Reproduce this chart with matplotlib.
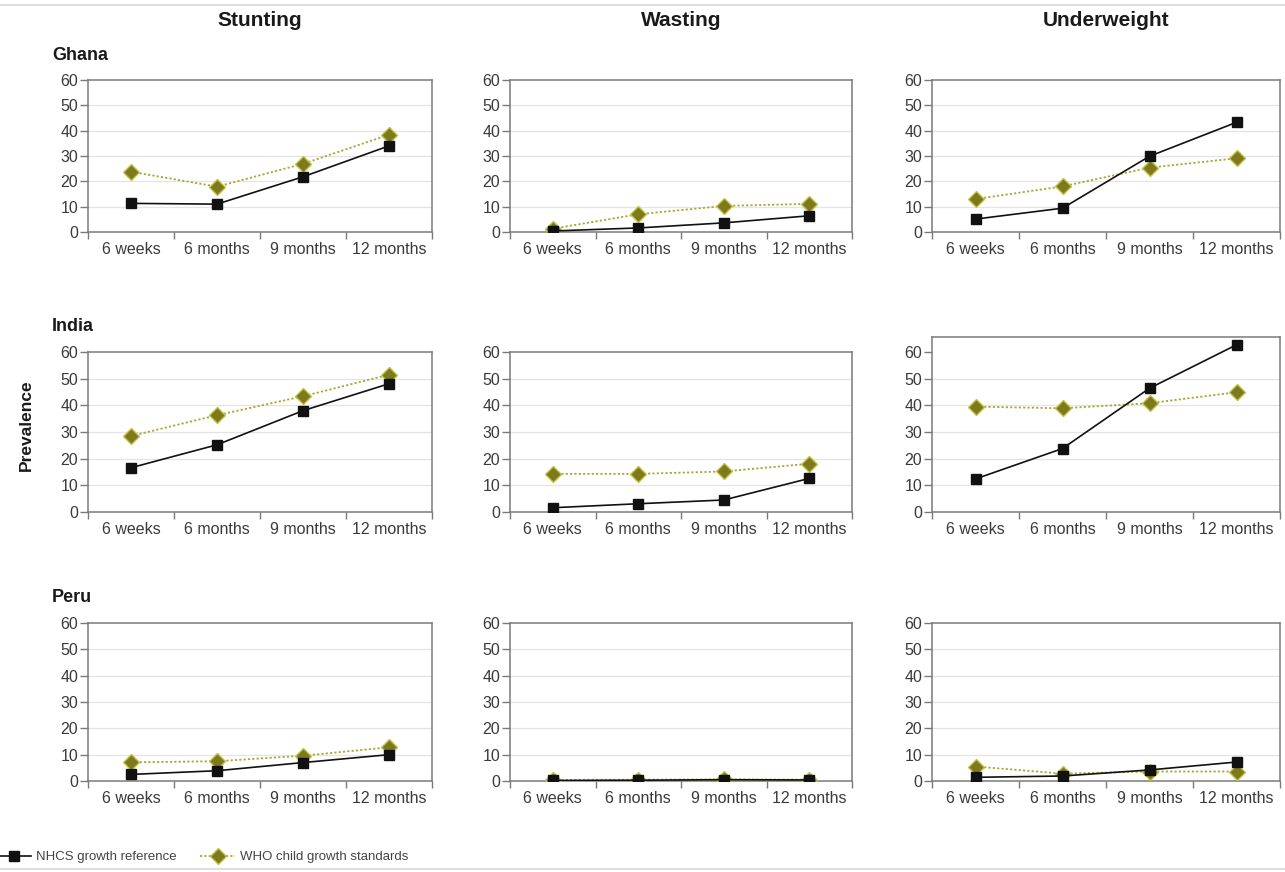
import matplotlib
matplotlib.use("Agg")
import matplotlib.pyplot as plt
from matplotlib.lines import Line2D

plt.rcParams['font.family'] = ['Liberation Sans Narrow', 'Liberation Sans', 'DejaVu Sans']

# data
periods = ['6 weeks', '6 months', '9 months', '12 months']
countries = ['Ghana', 'India', 'Peru']
indicators = ['Stunting', 'Wasting', 'Underweight']

# NHCS growth reference
nhcs_ghana_stunting = [11.3, 11.0, 21.8, 34.0]
nhcs_ghana_wasting = [0.4, 1.6, 3.6, 6.4]
nhcs_ghana_underweight = [5.1, 9.4, 29.9, 43.3]
nhcs_india_stunting = [16.6, 25.2, 38.0, 48.1]
nhcs_india_wasting = [1.6, 3.1, 4.5, 12.6]
nhcs_india_underweight = [12.4, 23.8, 46.4, 62.7]
nhcs_peru_stunting = [2.5, 3.9, 7.0, 10.0]
nhcs_peru_wasting = [0.2, 0.3, 0.5, 0.4]
nhcs_peru_underweight = [1.4, 1.9, 4.2, 7.2]

# WHO child growth standards
who_ghana_stunting = [23.8, 17.9, 26.9, 38.4]
who_ghana_wasting = [1.3, 7.0, 10.3, 11.1]
who_ghana_underweight = [13.0, 18.0, 25.4, 29.1]
who_india_stunting = [28.5, 36.3, 43.4, 51.5]
who_india_wasting = [14.3, 14.3, 15.2, 18.1]
who_india_underweight = [39.5, 38.9, 40.8, 44.9]
who_peru_stunting = [7.1, 7.5, 9.6, 12.8]
who_peru_wasting = [0.4, 0.5, 0.6, 0.5]
who_peru_underweight = [5.5, 2.8, 3.6, 3.6]

nhcs = [[nhcs_ghana_stunting, nhcs_ghana_wasting, nhcs_ghana_underweight],
        [nhcs_india_stunting, nhcs_india_wasting, nhcs_india_underweight],
        [nhcs_peru_stunting, nhcs_peru_wasting, nhcs_peru_underweight]]
who = [[who_ghana_stunting, who_ghana_wasting, who_ghana_underweight],
       [who_india_stunting, who_india_wasting, who_india_underweight],
       [who_peru_stunting, who_peru_wasting, who_peru_underweight]]

W, H = 1285, 872
fig = plt.figure(figsize=(W / 100, H / 100), dpi=100)

# panel boxes in pixels: left, right / top, bottom
col_px = [(88, 432), (510, 852), (932, 1280)]
row_px = [(80, 232), (352, 512), (623, 781)]

nhcs_color = '#111111'
who_face = '#7c7a1c'
who_edge = '#c4c247'
who_line = '#a9a735'
axis_gray = '#7a7a7a'
text_gray = '#3a3a3a'

x = list(range(len(periods)))

for r in range(3):
    for c in range(3):
        left, right = col_px[c]
        top, bottom = row_px[r]
        ymax = 60
        if r == 1 and c == 2:
            top = 337
            ymax = 60 * (bottom - top) / (bottom - 352)
        ax = fig.add_axes([left / W, 1 - bottom / H, (right - left) / W, (bottom - top) / H])
        ax.plot(x, who[r][c], linestyle=(0, (1.2, 1.2)), color=who_line, lw=1.3,
                marker='D', markersize=8, markerfacecolor=who_face,
                markeredgecolor=who_edge, markeredgewidth=1.0, zorder=3)
        ax.plot(x, nhcs[r][c], linestyle='-', color=nhcs_color, lw=1.2,
                marker='s', markersize=6.5, markerfacecolor=nhcs_color,
                markeredgecolor=nhcs_color, zorder=4)
        ax.set_xlim(-0.5, 3.5)
        ax.set_ylim(0, ymax)
        ax.set_yticks(range(0, 61, 10))
        ax.set_xticks(x)
        ax.set_xticklabels(periods)
        ax.set_xticks([-0.5, 0.5, 1.5, 2.5, 3.5], minor=True)
        ax.tick_params(axis='x', which='major', length=0, pad=7, labelsize=11.5, labelcolor=text_gray)
        ax.tick_params(axis='x', which='minor', length=5, width=1.0, color=axis_gray)
        ax.tick_params(axis='y', length=6, width=1.0, color=axis_gray, pad=1,
                       labelsize=11.5, labelcolor=text_gray)
        for yg in range(10, 60, 10):
            ax.axhline(yg, color='#e4e4e4', lw=0.9, zorder=0)
        for sp in ax.spines.values():
            sp.set_color(axis_gray)
            sp.set_linewidth(1.1)

# column titles
for c, name in enumerate(indicators):
    left, right = col_px[c]
    fig.text((left + right) / 2 / W, 1 - 20 / H, name, ha='center', va='center',
             fontsize=15, fontweight='bold', color='#1a1a1a')

# country labels
country_y = [55, 326, 597]
for r, name in enumerate(countries):
    fig.text(52 / W, 1 - country_y[r] / H, name, ha='left', va='center',
             fontsize=13, fontweight='bold', color='#1a1a1a')

fig.text(26 / W, 1 - 425 / H, 'Prevalence', ha='center', va='center', rotation=90,
         fontsize=12.5, fontweight='bold', color='#1a1a1a')

handles = [
    Line2D([], [], color=nhcs_color, lw=1.2, marker='s', markersize=6.5,
           markerfacecolor=nhcs_color),
    Line2D([], [], color=who_line, lw=1.3, linestyle=(0, (1.2, 1.2)), marker='D',
           markersize=8, markerfacecolor=who_face, markeredgecolor=who_edge),
]
fig.legend(handles, ['NHCS growth reference', 'WHO child growth standards'],
           loc='center left', bbox_to_anchor=(-0.012, 1 - 857 / H), ncol=2,
           frameon=False, fontsize=9.5, handlelength=2.6, handletextpad=0.4,
           columnspacing=1.8, labelcolor='#444444')

# thin frame lines at top and bottom of the image
fig.add_artist(Line2D([0, 1], [1 - 5 / H, 1 - 5 / H], color='#d8d8d8', lw=1.2))
fig.add_artist(Line2D([0, 1], [1 - 869 / H, 1 - 869 / H], color='#d8d8d8', lw=1.2))

fig.savefig('out.png', dpi=100)
